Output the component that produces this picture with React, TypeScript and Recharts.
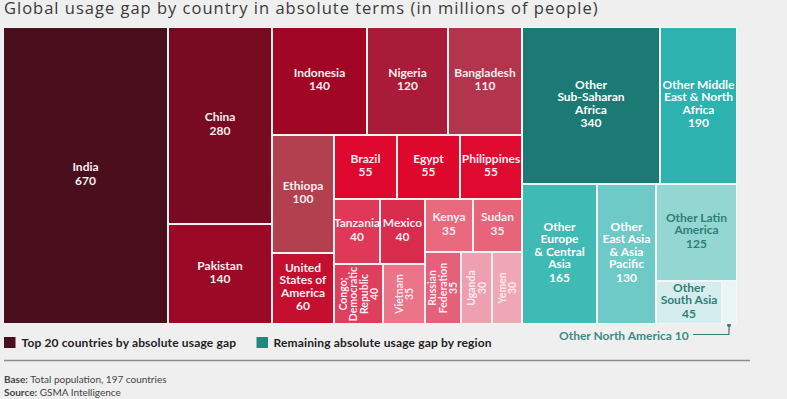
import React from 'react';
import { Treemap } from 'recharts';

// ---------- data ----------
const titleText = 'Global usage gap by country in absolute terms (in millions of people)';

const countryNames = [
  'India', 'China', 'Pakistan', 'Indonesia', 'Nigeria', 'Bangladesh', 'Ethiopa',
  'United\nStates of\nAmerica', 'Brazil', 'Egypt', 'Philippines', 'Tanzania', 'Mexico',
  'Congo;\nDemocratic\nRepublic', 'Vietnam', 'Kenya', 'Sudan', 'Russian\nFederation', 'Uganda', 'Yemen',
];
const countryValues = [670, 280, 140, 140, 120, 110, 100, 60, 55, 55, 55, 40, 40, 40, 35, 35, 35, 35, 30, 30];
const countryColors = [
  '#4a0f1d', '#780b22', '#9a0a27', '#a20625', '#a81c3a', '#b3354d', '#b2404f',
  '#c4102e', '#df082e', '#de082d', '#e00a30', '#e03858', '#d92b4b',
  '#de3f5d', '#eb7489', '#e9697f', '#e8647b', '#e5607a', '#efa0b0', '#f0a7b5',
];

const regionNames = [
  'Other\nSub-Saharan\nAfrica', 'Other Middle\nEast & North\nAfrica', 'Other\nEurope\n& Central\nAsia',
  'Other\nEast Asia\n& Asia\nPacific', 'Other Latin\nAmerica', 'Other\nSouth Asia', 'Other North America',
];
const regionValues = [340, 190, 165, 130, 125, 45, 10];
const regionColors = ['#1b7b74', '#2db2af', '#3fbab5', '#6dcac6', '#93d6d2', '#d5eeed', '#e9f6f5'];

const verticalLabelNames = ['Congo;\nDemocratic\nRepublic', 'Vietnam', 'Russian\nFederation', 'Uganda', 'Yemen'];
const darkTextNames = ['Other Latin\nAmerica', 'Other\nSouth Asia'];
const calloutName = 'Other North America';
const legendLabels = ['Top 20 countries by absolute usage gap', 'Remaining absolute usage gap by region'];
const legendColors = ['#4a0f1d', '#1d8a7e'];
const footLabels = ['Base:', 'Source:'];
const footTexts = [' Total population, 197 countries', ' GSMA Intelligence'];

// ---------- tree construction ----------
const FONT = 'Lato, "Open Sans", sans-serif';
const TITLE_FONT = '"Open Sans", Lato, sans-serif';

const country = (i: number) => ({
  name: countryNames[i],
  value: countryValues[i],
  leaf: true,
  cellColor: countryColors[i],
  textColor: '#fbecef',
  vert: verticalLabelNames.includes(countryNames[i]),
  hideText: false,
});
const region = (i: number) => ({
  name: regionNames[i],
  value: regionValues[i],
  leaf: true,
  cellColor: regionColors[i],
  textColor: darkTextNames.includes(regionNames[i]) ? '#2f7f7a' : '#ffffff',
  vert: false,
  hideText: regionNames[i] === calloutName,
});
const group = (name: string, children: any[]) => ({ name, children });

const top20Tree = [
  country(0),
  group('rest', [
    country(1), country(2),
    group('middle', [
      country(3), country(4), country(5),
      group('lower', [
        group('eth-usa', [country(6), country(7)]),
        group('smaller', [
          country(8), country(9), country(10),
          group('smallest', [
            group('block-a', [
              group('row-a1', [country(11), country(12)]),
              group('row-a2', [country(13), country(14)]),
            ]),
            group('block-b', [
              group('row-b1', [country(15), country(16)]),
              group('row-b2', [country(17), group('row-b3', [country(18), country(19)])]),
            ]),
          ]),
        ]),
      ]),
    ]),
  ]),
];

const regionTree = [
  group('upper', [region(0), region(1)]),
  group('lower', [
    region(2),
    group('lower-rest', [
      region(3),
      group('latin-col', [region(4), group('south', [region(5), region(6)])]),
    ]),
  ]),
];

// ---------- cell renderer ----------
const renderCell = (p: any) => {
  if (!p || !p.leaf) return <g />;
  const { x, y, width, height } = p;
  const lines: string[] = String(p.name).split('\n');
  const valueText = String(p.value);
  const cx = x + width / 2;
  const rect = (
    <rect x={x + 1} y={y + 1} width={Math.max(0, width - 2)} height={Math.max(0, height - 2)} fill={p.cellColor} />
  );
  if (p.hideText) return <g>{rect}</g>;

  if (p.vert) {
    const fs = 10.5;
    const lh = 10.5;
    const all = [...lines, valueText];
    const cy = y + height / 2;
    const n = all.length;
    return (
      <g>
        {rect}
        <g transform={`rotate(-90, ${cx}, ${cy})`}>
          {all.map((t, i) => (
            <text
              key={i}
              x={cx}
              y={cy + (i - (n - 1) / 2) * lh + fs * 0.36}
              textAnchor="middle"
              fontSize={fs}
              fontWeight={700}
              fontFamily={FONT}
              fill={p.textColor}
            >
              {t}
            </text>
          ))}
        </g>
      </g>
    );
  }

  const fs = 12;
  const lh = 12.5;
  const gap = 13.5;
  const span = (lines.length - 1) * lh + gap;
  const cy = y + height / 2 - 2;
  const top = cy - span / 2;
  return (
    <g>
      {rect}
      {lines.map((t, i) => (
        <text
          key={i}
          x={cx}
          y={top + i * lh + fs * 0.36}
          textAnchor="middle"
          fontSize={fs}
          fontWeight={700}
          fontFamily={FONT}
          fill={p.textColor}
        >
          {t}
        </text>
      ))}
      <text
        x={cx}
        y={top + span + fs * 0.36}
        textAnchor="middle"
        fontSize={fs}
        fontWeight={700}
        fontFamily={FONT}
        fill={p.textColor}
      >
        {valueText}
      </text>
    </g>
  );
};

export default function App() {
  return (
    <div
      style={{
        position: 'absolute',
        left: 0,
        top: 0,
        width: 787,
        height: 399,
        background: '#efefef',
        overflow: 'hidden',
        fontFamily: FONT,
      }}
    >
      <svg width={787} height={399} style={{ position: 'absolute', left: 0, top: 0 }}>
        <text x={4} y={14} fontSize={16.5} letterSpacing={1.0} fill="#3a3a3a" fontFamily={TITLE_FONT}>
          {titleText}
        </text>
        {/* legend */}
        <rect x={4} y={337} width={11.5} height={11} fill={legendColors[0]} />
        <text x={21.5} y={347} fontSize={12} letterSpacing={0.15} fontWeight={700} fill="#222" fontFamily={FONT}>
          {legendLabels[0]}
        </text>
        <rect x={256.5} y={337} width={11.5} height={11} fill={legendColors[1]} />
        <text x={273.5} y={347} fontSize={12} letterSpacing={0.15} fontWeight={700} fill="#222" fontFamily={FONT}>
          {legendLabels[1]}
        </text>
        {/* callout */}
        <text x={559} y={339.5} fontSize={12} fontWeight={700} fill="#3a8c86" fontFamily={FONT}>
          {`${calloutName} ${regionValues[6]}`}
        </text>
        <polyline points="693,334.5 729,334.5 729,325" fill="none" stroke="#2f7f7a" strokeWidth={1.2} />
        <circle cx={729} cy={325} r={2} fill="#2f7f7a" />
        {/* rule */}
        <line x1={4} x2={750} y1={360.5} y2={360.5} stroke="#8a8a8a" strokeWidth={1.3} />
        {/* footnotes */}
        <text x={4} y={382.5} fontSize={10} fill="#444" fontFamily={FONT}>
          <tspan fontWeight={700}>{footLabels[0]}</tspan>
          <tspan>{footTexts[0]}</tspan>
        </text>
        <text x={4} y={396} fontSize={10} fill="#444" fontFamily={FONT}>
          <tspan fontWeight={700}>{footLabels[1]}</tspan>
          <tspan>{footTexts[1]}</tspan>
        </text>
      </svg>
      <div style={{ position: 'absolute', left: 3, top: 27, width: 519, height: 297, background: '#f6f1f2' }}>
        <Treemap
          width={519}
          height={297}
          data={top20Tree}
          dataKey="value"
          aspectRatio={1.23}
          isAnimationActive={false}
          content={renderCell}
        />
      </div>
      <div style={{ position: 'absolute', left: 522, top: 27, width: 215, height: 297, background: '#f2f6f6' }}>
        <Treemap
          width={215}
          height={297}
          data={regionTree}
          dataKey="value"
          aspectRatio={1.23}
          isAnimationActive={false}
          content={renderCell}
        />
      </div>
    </div>
  );
}
